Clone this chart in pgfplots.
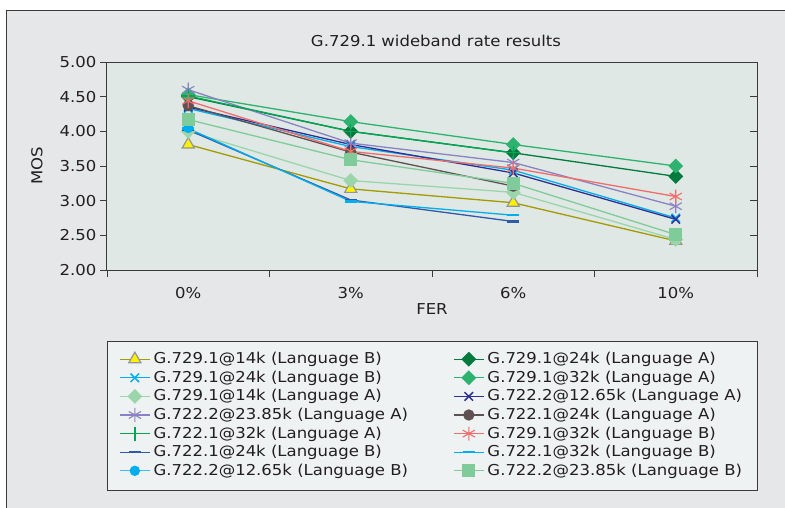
\documentclass[border=0pt]{standalone}
\usepackage{pgfplots}
\pgfplotsset{compat=1.18}
\usepackage{fontspec}
\setmainfont{DejaVu Sans}[FakeStretch=1.1]
\definecolor{outerbg}{HTML}{E6E7E8}
\definecolor{plotbg}{HTML}{DFE8E4}
\definecolor{legbg}{HTML}{EEF2F2}
\definecolor{frame}{HTML}{3A3A3A}
\definecolor{txt}{HTML}{231F20}
\definecolor{cOlive}{HTML}{A39B00}
\definecolor{cYellow}{HTML}{FFF200}
\definecolor{cGrayMk}{HTML}{939598}
\definecolor{cCyan}{HTML}{00AEEF}
\definecolor{cLtGreen}{HTML}{9AD5AB}
\definecolor{cPurple}{HTML}{8A82C4}
\definecolor{cGreen}{HTML}{00A651}
\definecolor{cBlue}{HTML}{2E5AA8}
\definecolor{cLtBlue}{HTML}{3DBFF0}
\definecolor{cDkGreen}{HTML}{007A3D}
\definecolor{cMidGreen}{HTML}{2DB36F}
\definecolor{cNavy}{HTML}{2E3192}
\definecolor{cBrown}{HTML}{5F5151}
\definecolor{cRed}{HTML}{F26C6C}
\definecolor{cSqGreen}{HTML}{7FCB99}
\newcommand{\fs}{\fontsize{15}{18}\selectfont}
\begin{document}
\begin{tikzpicture}
\path[use as bounding box] (0pt,0pt) rectangle (785pt,-508pt);
\draw[draw=frame, fill=outerbg, line width=0.8pt] (6pt,-10pt) rectangle (800pt,-520pt);
\draw[draw=frame, fill=legbg, line width=1pt] (107pt,-341pt) rectangle (757pt,-490pt);
\begin{axis}[
  at={(107pt,-270pt)}, anchor=south west, scale only axis,
  width=650pt, height=208pt,
  xmin=-0.5, xmax=3.5, ymin=2, ymax=5,
  axis background/.style={fill=plotbg},
  axis line style={draw=frame, line width=1pt},
  xtick={-0.5,0.5,1.5,2.5,3.5}, xticklabels={,,,,},
  extra x ticks={0,1,2,3}, extra x tick labels={0\%,3\%,6\%,10\%},
  extra x tick style={major tick length=0pt, xticklabel style={yshift=-14pt}},
  ytick={2,2.5,3,3.5,4,4.5,5},
  yticklabel style={/pgf/number format/.cd, fixed, fixed zerofill, precision=2},
  /pgf/number format/assume math mode=true,
  tick align=outside, major tick length=7pt,
  xtick pos=left, ytick pos=left,
  tick style={draw=frame, line width=0.8pt},
  tick label style={font=\fs, text=txt},
  xlabel={FER}, ylabel={MOS},
  every axis x label/.style={at={(axis description cs:0.5,-0.1875)}, anchor=center, font=\fs, text=txt},
  every axis y label/.style={at={(axis description cs:-0.1077,0.5)}, anchor=center, rotate=90, font=\fs, text=txt},
  legend columns=2,
  legend cell align=left,
  legend style={at={(axis description cs:0.01846,-0.3918)}, anchor=north west,
    draw=none, fill=none, inner sep=0pt, font=\fs, text=txt, row sep=3.6pt,
    nodes={inner xsep=3pt, inner ysep=0pt, text height=12pt, text depth=3pt},
    /tikz/every even column/.append style={column sep=42pt}},
  legend image code/.code={\draw[mark repeat=2,mark phase=2] plot coordinates {(0pt,0pt) (15pt,0pt) (30pt,0pt)};},
  every axis plot/.append style={line width=1.3pt},
]
% 1
\addplot[color=cOlive, mark=triangle*, mark size=7pt, mark options={fill=cYellow, draw=cGrayMk, line width=1.2pt}]
  coordinates {(0,3.81) (1,3.17) (2,2.97) (3,2.42)};
\addlegendentry{G.729.1@14k (Language B)}
% 2
\addplot[color=cDkGreen, mark=diamond*, mark size=6.5pt, mark options={xscale=1.33, fill=cDkGreen}]
  coordinates {(0,4.50) (1,4.00) (2,3.69) (3,3.35)};
\addlegendentry{G.729.1@24k (Language A)}
% 3
\addplot[color=cCyan, mark=x, mark size=6pt, mark options={line width=1.5pt}]
  coordinates {(0,4.33) (1,3.78) (2,3.44) (3,2.75)};
\addlegendentry{G.729.1@24k (Language B)}
% 4
\addplot[color=cMidGreen, mark=diamond*, mark size=6.5pt, mark options={xscale=1.33, fill=cMidGreen}]
  coordinates {(0,4.53) (1,4.14) (2,3.81) (3,3.50)};
\addlegendentry{G.729.1@32k (Language A)}
% 5
\addplot[color=cLtGreen, mark=diamond*, mark size=6.5pt, mark options={xscale=1.33, fill=cLtGreen}]
  coordinates {(0,4.00) (1,3.29) (2,3.12) (3,2.44)};
\addlegendentry{G.729.1@14k (Language A)}
% 6
\addplot[color=cNavy, mark=x, mark size=6pt, mark options={line width=1.5pt}]
  coordinates {(0,4.35) (1,3.81) (2,3.40) (3,2.73)};
\addlegendentry{G.722.2@12.65k (Language A)}
% 7
\addplot[color=cPurple, mark=asterisk, mark size=7pt, mark options={line width=1.1pt}]
  coordinates {(0,4.60) (1,3.83) (2,3.55) (3,2.92)};
\addlegendentry{G.722.2@23.85k (Language A)}
% 8
\addplot[color=cBrown, mark=*, mark size=5pt, mark options={fill=cBrown}]
  coordinates {(0,4.37) (1,3.70) (2,3.21)};
\addlegendentry{G.722.1@24k (Language A)}
% 9
\addplot[color=cGreen, mark=+, mark size=7pt, mark options={line width=1.3pt}]
  coordinates {(0,4.51) (1,4.00) (2,3.69)};
\addlegendentry{G.722.1@32k (Language A)}
% 10
\addplot[color=cRed, mark=asterisk, mark size=7pt, mark options={line width=1.1pt}]
  coordinates {(0,4.44) (1,3.71) (2,3.47) (3,3.06)};
\addlegendentry{G.729.1@32k (Language B)}
% 11
\addplot[color=cBlue, mark=-, mark size=6pt, mark options={line width=2.4pt}]
  coordinates {(0,4.02) (1,3.01) (2,2.70)};
\addlegendentry{G.722.1@24k (Language B)}
% 12
\addplot[color=cCyan, mark=-, mark size=6pt, mark options={line width=2.4pt}]
  coordinates {(0,4.04) (1,2.99) (2,2.79)};
\addlegendentry{G.722.1@32k (Language B)}
% 13
\addplot[color=cLtBlue, mark=*, mark size=4.5pt, mark options={fill=cCyan, draw=cCyan}]
  coordinates {(0,4.05)};
\addlegendentry{G.722.2@12.65k (Language B)}
% 14
\addplot[color=cSqGreen, mark=square*, mark size=6pt, mark options={fill=cSqGreen}]
  coordinates {(0,4.17) (1,3.59) (2,3.25) (3,2.51)};
\addlegendentry{G.722.2@23.85k (Language B)}
\end{axis}
\begin{axis}[
  at={(107pt,-270pt)}, anchor=south west, scale only axis,
  width=650pt, height=208pt,
  xmin=-0.5, xmax=3.5, ymin=2, ymax=5,
  hide x axis, axis y line*=right,
  ytick={2,2.5,3,3.5,4,4.5,5}, yticklabels={},
  tick align=inside, major tick length=7pt,
  tick style={draw=frame, line width=0.8pt},
  axis line style={draw=frame, line width=1pt},
]
\end{axis}
\node[text=txt, font=\fs] at (436pt,-41pt) {G.729.1 wideband rate results};
\end{tikzpicture}
\end{document}
